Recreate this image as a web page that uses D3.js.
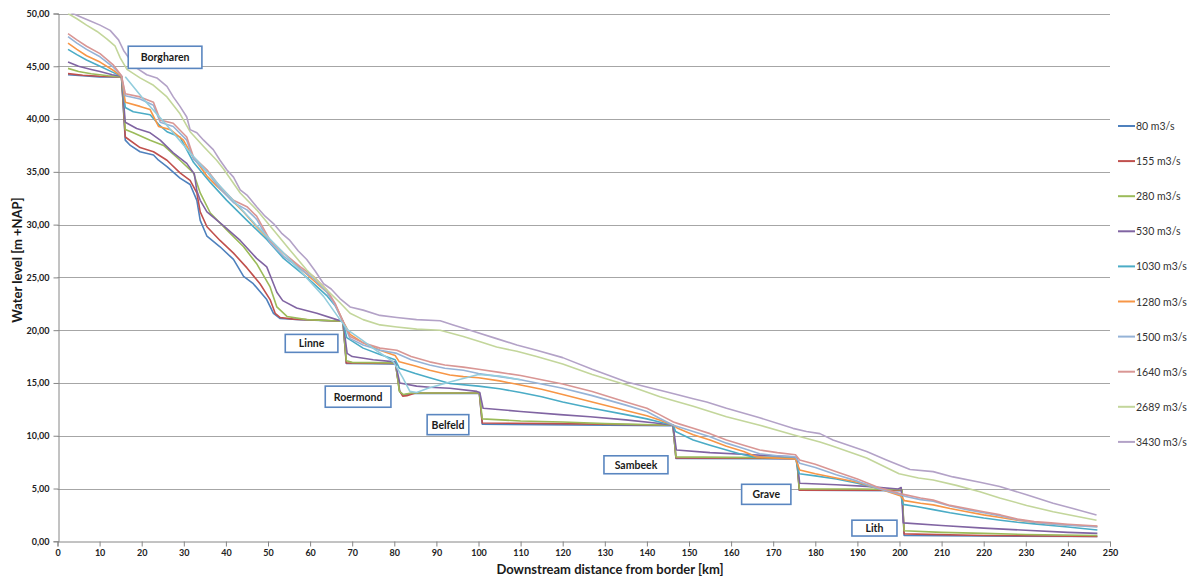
<!DOCTYPE html>
<html>
<head>
<meta charset="utf-8">
<script src="https://cdn.jsdelivr.net/npm/d3@7"></script>
<style>
  body { margin: 0; background: #ffffff; }
  svg text { font-family: Lato, "Open Sans", "Liberation Sans", sans-serif; }
</style>
</head>
<body>
<svg id="chart" width="1194" height="578"></svg>
<script>
// ---- Data: water level [m +NAP] along the Meuse, [km from border, level] ----
const xTicks = d3.range(0, 251, 10);
const yTicks = d3.range(0, 50.001, 5);

const seriesLabels = ["80 m3/s", "155 m3/s", "280 m3/s", "530 m3/s", "1030 m3/s",
                      "1280 m3/s", "1500 m3/s", "1640 m3/s", "2689 m3/s", "3430 m3/s"];

const level80 = [[2.5,44.2],[6,44.1],[10,44.0],[15.2,44.0],[16.1,38.0],[17.3,37.5],[19.6,36.9],[22.8,36.6],[24,36.1],[26,35.5],[29.1,34.4],[31.5,33.8],[33.1,32.3],[33.9,30.4],[35.5,28.9],[38.6,27.9],[41.8,26.7],[44.2,25.1],[46.5,24.4],[49.7,22.9],[51.3,21.6],[52.9,21.1],[57.6,21.0],[67.8,20.85],[68.6,16.85],[80.3,16.8],[81.3,14.2],[82,13.85],[84,14.0],[100.2,14.0],[100.9,11.1],[146.2,10.95],[146.9,7.85],[175.6,7.8],[176.2,4.85],[200.6,4.8],[201.1,0.55],[247,0.45]];

const level155 = [[2.5,44.3],[6,44.15],[10,44.05],[15.2,44.0],[16.1,38.3],[19.6,37.3],[22.8,36.9],[26,36.1],[29.1,34.9],[31.5,34.2],[33.1,33.0],[33.9,31.2],[35.5,29.8],[38.6,28.5],[41.8,27.3],[45,25.9],[48.1,24.4],[50.5,22.9],[51.7,21.6],[52.9,21.2],[56,21.05],[67.8,20.85],[68.6,16.9],[80.3,16.85],[81.2,14.3],[82,13.75],[83,13.8],[85,14.05],[100.2,14.05],[100.9,11.2],[120,11.15],[146.2,11.0],[146.9,7.9],[175.6,7.85],[176.2,4.85],[200.6,4.85],[201.1,0.7],[220,0.55],[247,0.45]];

const level280 = [[2.5,44.8],[5,44.5],[8,44.3],[12,44.1],[15.2,44.0],[16.1,39.0],[18,38.7],[22,38.0],[25.2,37.5],[29.1,36.1],[32.3,34.9],[33.9,33.0],[36.3,31.1],[40.2,29.5],[44.2,27.9],[47.3,26.3],[50.5,24.1],[52.1,22.2],[54.5,21.3],[59.2,21.0],[67.8,20.85],[68.6,17.1],[70,16.95],[80.3,16.9],[81.2,14.2],[82.2,13.9],[84,14.05],[100.2,14.05],[100.9,11.6],[110,11.4],[120,11.3],[130,11.15],[146.2,11.0],[146.9,8.0],[160,7.95],[175.6,7.9],[176.2,4.95],[190,4.95],[200.6,4.9],[201.1,1.0],[210,0.85],[220,0.75],[230,0.65],[247,0.55]];

const level530 = [[2.5,45.4],[5,45.0],[8,44.7],[10.1,44.5],[13,44.2],[15.2,44.05],[16.1,39.7],[18.8,39.1],[22,38.7],[24.4,38.0],[27.5,36.8],[30.7,35.8],[32.5,34.8],[33.1,33.2],[33.9,32.3],[35.5,31.2],[39.4,29.9],[43.4,28.5],[47.3,26.8],[49.7,26.0],[50.5,25.2],[52.1,23.6],[53.5,22.8],[56.8,22.1],[61.6,21.6],[66.3,21.0],[67.8,20.85],[68.8,17.8],[70,17.5],[75,17.2],[80.2,17.0],[81.3,15.0],[85.3,14.7],[88.4,14.6],[93.2,14.5],[99.6,14.2],[100.3,14.1],[101.1,12.6],[110,12.3],[119.4,12.0],[126.5,11.8],[135,11.5],[142,11.2],[146.2,11.0],[147,8.65],[155,8.4],[165,8.2],[174.7,8.0],[175.6,7.9],[176.3,5.5],[185,5.35],[192.2,5.2],[199.7,4.95],[200.4,5.1],[200.9,1.75],[210,1.5],[220,1.25],[230,1.05],[240,0.85],[247,0.75]];

const level1030 = [[2.5,46.6],[4.6,46.1],[6.9,45.6],[10.1,45.0],[13.3,44.4],[15.2,44.05],[16.1,41.1],[18,40.7],[22,40.4],[24,39.5],[26,38.8],[29.1,38.3],[32.3,35.9],[36.3,34.0],[40.2,32.3],[45,30.4],[49.7,28.6],[53.7,26.8],[59.2,25.0],[63.9,23.3],[66,22.3],[67.8,20.85],[68.7,19.3],[72.6,18.3],[76.6,17.7],[80.2,17.2],[81.2,16.4],[85,15.9],[88.4,15.5],[93.2,14.95],[100,14.7],[105,14.45],[110,14.1],[115,13.7],[120,13.2],[127,12.6],[135,12.0],[140,11.6],[143,11.3],[146.3,11.0],[146.8,10.4],[151,9.6],[155,9.1],[158.9,8.65],[162,8.3],[165.3,8.0],[170,7.95],[175.3,7.85],[176.2,6.4],[180,6.2],[185,5.9],[190,5.5],[195,5.0],[200.3,4.4],[200.8,3.5],[204,3.3],[208,3.0],[212,2.7],[216,2.45],[220,2.2],[224,2.0],[228,1.8],[232,1.65],[236,1.5],[240,1.35],[247,1.07]];

const level1280 = [[2.5,47.2],[4.6,46.6],[6.9,46.0],[10.1,45.4],[13.3,44.6],[15.2,44.05],[16.1,41.6],[19.6,41.2],[22,40.9],[24,39.3],[26.8,39.0],[29.9,38.0],[31.9,36.6],[35.5,34.6],[38,33.6],[40.2,32.8],[44.2,31.2],[47.3,29.8],[51.3,28.2],[55.2,26.7],[59.2,25.3],[62,24.3],[64,23.6],[66,22.4],[67.8,20.85],[69.5,19.6],[72.6,18.8],[76.6,18.1],[80.2,17.6],[81.2,17.0],[85,16.6],[88.4,16.2],[93.2,15.75],[96.4,15.6],[100,15.5],[105,15.2],[110,14.8],[115,14.4],[120,13.9],[127,13.2],[135,12.4],[140,11.9],[143,11.5],[146.3,11.0],[147.3,10.7],[151,10.1],[155,9.6],[158.9,9.0],[163,8.5],[166,8.0],[170,7.9],[175.3,7.8],[176.3,6.75],[180,6.4],[185,6.0],[190,5.6],[195,5.0],[200.3,4.3],[201.2,3.85],[205,3.6],[208,3.45],[212,3.1],[216,2.8],[220,2.5],[224,2.25],[228,2.0],[232,1.8],[236,1.65],[240,1.55],[247,1.4]];

const level1500 = [[2.5,47.8],[4.6,47.2],[6.9,46.6],[10.1,45.9],[13.3,44.9],[15.2,44.1],[16.1,42.2],[19.6,41.9],[22.8,41.3],[24.4,39.7],[27.5,39.3],[30.7,38.0],[32.3,36.2],[35.5,35.0],[38.6,33.4],[41.8,32.1],[45,31.4],[47.3,30.5],[50.5,28.3],[53.7,27.0],[57.7,25.8],[60.8,24.9],[64,23.6],[66,22.3],[67.8,20.85],[69.5,19.2],[72.6,18.6],[76.6,18.1],[80.6,17.8],[84,17.2],[88.4,16.7],[92,16.4],[96.4,16.2],[100,15.9],[105,15.6],[110,15.3],[115,14.9],[120,14.5],[127,13.8],[135,12.9],[140,12.3],[143,11.65],[146.3,11.0],[151,10.4],[155,9.9],[158.9,9.3],[163,8.8],[166.8,8.3],[171,8.1],[175.3,8.0],[176.3,7.4],[180,7.0],[185,6.3],[190,5.7],[195,5.0],[200.3,4.4],[201.5,4.25],[205,3.95],[208,3.8],[212,3.35],[216,3.0],[220,2.7],[224,2.4],[228,2.05],[232,1.8],[236,1.65],[240,1.52],[247,1.35]];

const level1640 = [[2.5,48.1],[4.6,47.5],[6.9,46.9],[10.1,46.2],[13.3,45.1],[15.2,44.1],[16.1,42.4],[19.6,42.1],[22.8,41.6],[24.4,39.9],[27.5,39.6],[30.7,38.3],[32.3,36.4],[35.5,35.2],[38.6,33.6],[41.8,32.3],[45,31.7],[47.3,30.8],[50.5,28.5],[53.7,27.3],[57.7,26.0],[60.8,25.1],[64,23.8],[66,22.5],[67.8,20.85],[69.5,19.4],[72.6,18.8],[76.6,18.3],[80.6,18.1],[84,17.5],[88.4,17.0],[92,16.7],[96.4,16.5],[100,16.3],[105,16.0],[110,15.7],[115,15.3],[120,14.9],[127,14.2],[135,13.2],[140,12.6],[143,12.0],[146.3,11.3],[147.8,11.1],[151,10.7],[155,10.2],[158.9,9.6],[163,9.1],[166.8,8.65],[171,8.4],[175.3,8.2],[176.3,7.7],[180,7.3],[185,6.6],[190,5.9],[195,5.1],[200.3,4.5],[201.5,4.4],[205,4.1],[208,3.9],[212,3.4],[216,3.1],[220,2.8],[224,2.5],[228,2.1],[232,1.86],[236,1.75],[240,1.62],[247,1.45]];

const level2689 = [[2.5,50.0],[4.6,49.5],[6.9,48.9],[9.4,48.3],[11.7,47.6],[13.7,46.9],[14.9,45.8],[16.5,44.7],[19.6,43.9],[22.8,43.2],[26,42.1],[29.1,40.5],[31.5,38.8],[34.7,37.4],[37.8,36.1],[39.4,35.3],[43.4,33.0],[47.3,31.4],[51.3,29.5],[55.2,27.6],[59.2,25.7],[63.2,24.1],[67.1,22.6],[69.5,21.6],[72.6,21.0],[76.6,20.5],[80.6,20.3],[85.3,20.1],[90.9,20.0],[96.4,19.4],[100.4,18.9],[104.3,18.4],[109.1,18.0],[113.8,17.5],[120,16.8],[127,15.8],[135.2,14.8],[143.1,13.7],[151,12.8],[158.9,11.8],[166.8,11.0],[174.7,10.1],[181.1,9.4],[184.2,9.0],[192.2,7.9],[199.9,6.4],[204.5,6.0],[208,5.8],[213.5,5.3],[219.1,4.7],[223.8,4.1],[230.2,3.4],[236.5,2.8],[246.8,2.0]];

const level3430 = [[2.5,50.2],[5.4,49.7],[7.8,49.3],[10.1,48.9],[12.5,48.4],[14.5,47.5],[15.7,46.5],[17.3,45.6],[18.9,44.8],[21.2,44.2],[23.6,43.9],[26.0,43.1],[27.5,42.1],[29.1,41.2],[30.7,40.2],[31.5,39.0],[33.1,38.7],[34.7,38.0],[37.0,37.1],[38.6,36.1],[40.2,35.2],[41.8,34.5],[43.4,33.3],[45,32.8],[47.3,31.7],[49.3,30.8],[51.3,30.1],[53.2,29.2],[55.2,28.5],[57.2,27.5],[59.2,26.7],[61.2,25.6],[63.2,24.4],[65,23.9],[67.1,23.0],[69.5,22.2],[72.6,21.9],[76.6,21.4],[80.6,21.2],[85.3,21.0],[90.9,20.9],[94.0,20.5],[98.0,20.0],[104.3,19.2],[109.1,18.6],[113.8,18.1],[120,17.4],[127,16.3],[135.2,15.1],[143.1,14.3],[147.1,13.9],[151,13.5],[154.2,13.2],[158.9,12.6],[166.8,11.7],[174.7,10.7],[177.9,10.4],[181.1,10.2],[184.2,9.6],[192.2,8.5],[196.9,7.7],[202.5,6.8],[208,6.6],[212.7,6.1],[219.1,5.6],[223.8,5.2],[230.2,4.4],[236.5,3.6],[241.2,3.1],[246.8,2.5]];

// profile without a legend entry
const levelProfile = [[16.1,44.0],[20.4,41.9],[26,39.4],[31.5,36.8],[39.4,33.3],[47.3,29.9],[55.2,26.7],[63.2,23.2],[67.1,21.0],[69,20.0],[72.2,19.1],[76,18.0],[79.8,17.0],[82,15.5],[83.7,14.2],[85.3,14.1],[88,14.5],[93.2,15.1],[100,15.8],[105,15.65],[110,15.3]];

const stationNames = ["Borgharen", "Linne", "Roermond", "Belfeld", "Sambeek", "Grave", "Lith"];
// label boxes in chart units: [km left, km right, level top, level bottom]
const stationBoxes = [[16.8,34.3,46.9,44.8],[54.1,66.6,19.6,17.9],[63.6,79.2,14.7,12.7],[87.8,97.7,12.0,10.1],[129.8,145.0,8.1,6.4],[162.5,174.2,5.4,3.5],[188.7,199.4,2.0,0.5]];

// ---- Styling ----
const seriesData = [level80, level155, level280, level530, level1030, level1280, level1500, level1640, level2689, level3430];
const seriesColors = ["#4F81BD", "#C0504D", "#9BBB59", "#8064A2", "#4BACC6", "#F79646", "#95B3D7", "#D99694", "#C3D69B", "#B3A2C7"];
const profileColor = "#93CDDD";

const svg = d3.select("#chart");
const plot = { left: 57.5, right: 1110, top: 13.5, bottom: 541.3 };

const x = d3.scaleLinear().domain([0, 250]).range([plot.left, plot.right]);
const y = d3.scaleLinear().domain([0, 50]).range([plot.bottom, plot.top]);
const fmt = v => d3.format(".2f")(v).replace(".", ",");

svg.append("defs").append("clipPath").attr("id", "plotClip")
  .append("rect").attr("x", plot.left).attr("y", plot.top)
  .attr("width", plot.right - plot.left).attr("height", plot.bottom - plot.top);

// gridlines
svg.append("g").selectAll("line").data(yTicks.filter(v => v > 0)).join("line")
  .attr("x1", plot.left).attr("x2", plot.right)
  .attr("y1", d => Math.round(y(d)) + 0.5).attr("y2", d => Math.round(y(d)) + 0.5)
  .attr("stroke", "#a6a6a6").attr("stroke-width", 1);

// axes
const xAxis = svg.append("g").attr("transform", `translate(0,${Math.round(plot.bottom) + 0.5})`)
  .call(d3.axisBottom(x).tickValues(xTicks).tickSize(5).tickPadding(3).tickFormat(d3.format("d")));
const yAxis = svg.append("g").attr("transform", `translate(${Math.round(plot.left) + 0.5},0)`)
  .call(d3.axisLeft(y).tickValues(yTicks).tickSize(5).tickPadding(4).tickFormat(fmt));
[xAxis, yAxis].forEach(ax => {
  ax.select(".domain").attr("stroke", "#868686");
  ax.selectAll(".tick line").attr("stroke", "#868686");
  ax.selectAll(".tick text").attr("fill", "#222").attr("font-size", 9).attr("font-weight", 700)
    .style("font-family", "Lato, 'Open Sans', sans-serif");
});

// series lines
const line = d3.line().x(d => x(d[0])).y(d => y(d[1]));
const lines = svg.append("g").attr("clip-path", "url(#plotClip)");
seriesData.forEach((data, i) => {
  lines.append("path").datum(data).attr("d", line)
    .attr("fill", "none").attr("stroke", seriesColors[i])
    .attr("stroke-width", 1.6).attr("stroke-linejoin", "round");
});
lines.append("path").datum(levelProfile).attr("d", line)
  .attr("fill", "none").attr("stroke", profileColor)
  .attr("stroke-width", 1.6).attr("stroke-linejoin", "round");

// station labels
const stations = svg.append("g");
stationNames.forEach((name, i) => {
  const b = stationBoxes[i];
  const x0 = x(b[0]), x1 = x(b[1]), y0 = y(b[2]), y1 = y(b[3]);
  stations.append("rect").attr("x", x0).attr("y", y0)
    .attr("width", x1 - x0).attr("height", y1 - y0)
    .attr("fill", "#fff").attr("stroke", "#5A86C0").attr("stroke-width", 1.6);
  stations.append("text").attr("x", (x0 + x1) / 2).attr("y", (y0 + y1) / 2)
    .attr("text-anchor", "middle").attr("dominant-baseline", "central")
    .attr("font-size", 10.5).attr("font-weight", 700).attr("fill", "#1a1a1a")
    .text(name);
});

// legend
const legend = svg.append("g");
seriesLabels.forEach((label, i) => {
  const ly = 126 + i * 35.1;
  legend.append("line").attr("x1", 1118).attr("x2", 1135).attr("y1", ly).attr("y2", ly)
    .attr("stroke", seriesColors[i]).attr("stroke-width", 2);
  legend.append("text").attr("x", 1136).attr("y", ly).attr("dominant-baseline", "central")
    .attr("font-size", 10.5).attr("fill", "#333").text(label);
});

// axis titles
svg.append("text").attr("x", 610).attr("y", 574).attr("text-anchor", "middle")
  .attr("font-size", 13).attr("font-weight", 700).attr("fill", "#1a1a1a")
  .text("Downstream distance from border [km]");
svg.append("text").attr("transform", "translate(22,260) rotate(-90)").attr("text-anchor", "middle")
  .attr("font-size", 13).attr("font-weight", 700).attr("fill", "#1a1a1a")
  .text("Water level [m +NAP]");
</script>
</body>
</html>
